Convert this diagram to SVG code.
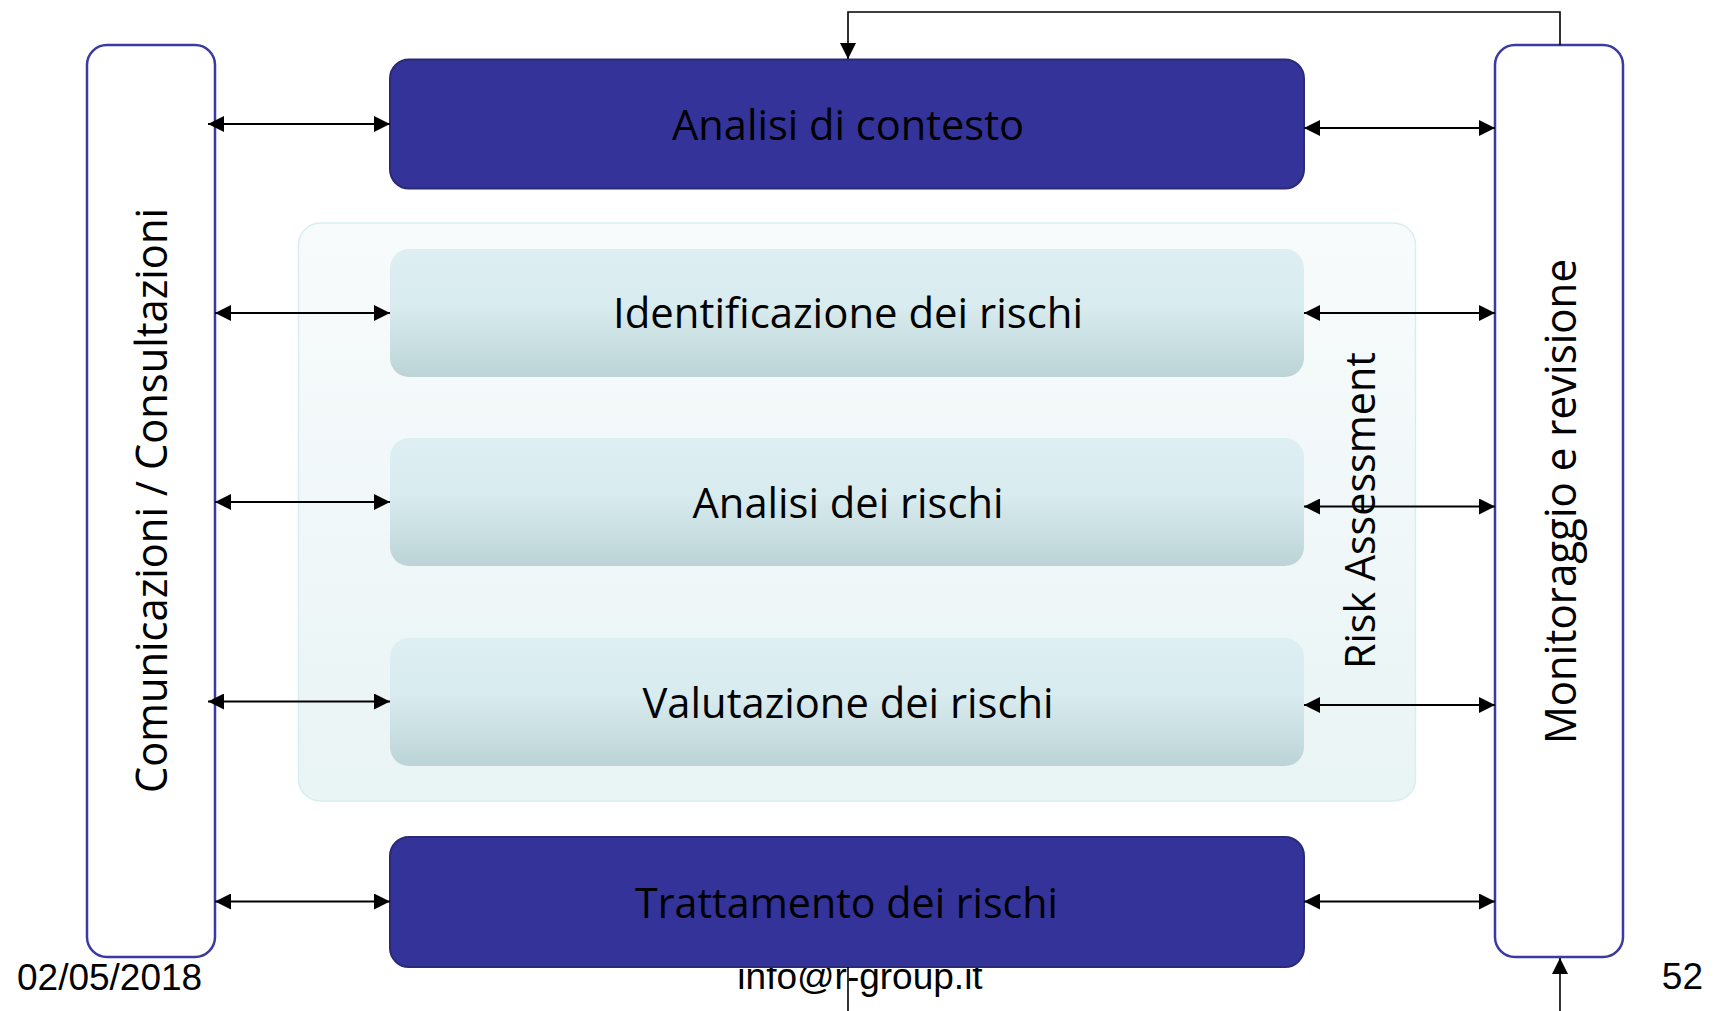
<svg xmlns="http://www.w3.org/2000/svg" width="1715" height="1011" viewBox="0 0 1715 1011">
  <style>
    .dark { fill: #333399; stroke: #2a2a78; stroke-width: 2; }
    .side { fill: #ffffff; stroke: #3a3aa0; stroke-width: 2.5; }
    .light { fill: url(#lightGrad); stroke: none; }
    .boxtext { font-family: "Open Sans", "Noto Sans", sans-serif; font-size: 42px; fill: #000000; text-anchor: middle; }
    .sidetext { font-family: "Open Sans", "Noto Sans", sans-serif; font-size: 43px; fill: #000000; text-anchor: middle; }
    .footer { font-family: "Liberation Sans", Arial, sans-serif; font-size: 37px; fill: #000000; }
    .conn { fill: none; stroke: #000000; stroke-width: 2; }
    .fb { fill: none; stroke: #000000; stroke-width: 1.6; }
  </style>
  <defs>
    <linearGradient id="lightGrad" x1="0" y1="0" x2="0" y2="1">
      <stop offset="0" stop-color="#ddeff2"/>
      <stop offset="0.45" stop-color="#d8ebee"/>
      <stop offset="1" stop-color="#bcd4d7"/>
    </linearGradient>
    <linearGradient id="contGrad" x1="0" y1="0" x2="0" y2="1">
      <stop offset="0" stop-color="#f8fbfc"/>
      <stop offset="1" stop-color="#e9f4f5"/>
    </linearGradient>
    <marker id="ah" markerUnits="userSpaceOnUse" markerWidth="16" markerHeight="16" viewBox="0 0 16 16" refX="16" refY="8" orient="auto-start-reverse">
      <path d="M0,0 L16,8 L0,16 z" fill="#000000"/>
    </marker>
  </defs>

  <!-- footer (drawn beneath boxes) -->
  <g id="footer">
    <text class="footer" x="17" y="990">02/05/2018</text>
    <text class="footer" x="860" y="989" text-anchor="middle">info@r-group.it</text>
    <text class="footer" x="1703" y="989" text-anchor="end">52</text>
  </g>

  <g id="risk-assessment">
    <rect x="298.5" y="223" width="1117" height="578" rx="22" fill="url(#contGrad)" stroke="#d8edf0" stroke-width="1.5"/>
    <text class="boxtext" transform="translate(1375,510.5) rotate(-90)" textLength="317" lengthAdjust="spacingAndGlyphs">Risk Assessment</text>
  </g>

  <g id="comunicazioni">
    <rect class="side" x="87" y="45" width="128" height="912" rx="20"/>
    <text class="sidetext" transform="translate(167,500.5) rotate(-90)" textLength="585" lengthAdjust="spacingAndGlyphs">Comunicazioni / Consultazioni</text>
  </g>

  <g id="monitoraggio">
    <rect class="side" x="1495" y="45" width="128" height="912" rx="20"/>
    <text class="sidetext" transform="translate(1576,501.5) rotate(-90)" textLength="485" lengthAdjust="spacingAndGlyphs">Monitoraggio e revisione</text>
  </g>

  <g id="analisi-contesto">
    <rect class="dark" x="390" y="59.5" width="914" height="129" rx="19"/>
    <text class="boxtext" x="848" y="140" textLength="352" lengthAdjust="spacingAndGlyphs">Analisi di contesto</text>
  </g>

  <g id="identificazione">
    <rect class="light" x="390" y="249" width="914" height="128" rx="19"/>
    <text class="boxtext" x="848" y="328" textLength="470" lengthAdjust="spacingAndGlyphs">Identificazione dei rischi</text>
  </g>

  <g id="analisi-rischi">
    <rect class="light" x="390" y="438" width="914" height="128" rx="19"/>
    <text class="boxtext" x="848" y="518" textLength="311" lengthAdjust="spacingAndGlyphs">Analisi dei rischi</text>
  </g>

  <g id="valutazione">
    <rect class="light" x="390" y="638" width="914" height="128" rx="19"/>
    <text class="boxtext" x="848" y="718" textLength="411" lengthAdjust="spacingAndGlyphs">Valutazione dei rischi</text>
  </g>

  <g id="trattamento">
    <rect class="dark" x="390" y="837" width="914" height="130" rx="19"/>
    <text class="boxtext" x="846.5" y="918" textLength="423" lengthAdjust="spacingAndGlyphs">Trattamento dei rischi</text>
  </g>

  <g id="connectors">
    <!-- left side -->
    <line class="conn" x1="208" y1="124" x2="390" y2="124" marker-start="url(#ah)" marker-end="url(#ah)"/>
    <line class="conn" x1="215" y1="313" x2="390" y2="313" marker-start="url(#ah)" marker-end="url(#ah)"/>
    <line class="conn" x1="215" y1="502" x2="390" y2="502" marker-start="url(#ah)" marker-end="url(#ah)"/>
    <line class="conn" x1="208" y1="701.5" x2="390" y2="701.5" marker-start="url(#ah)" marker-end="url(#ah)"/>
    <line class="conn" x1="215" y1="901.5" x2="390" y2="901.5" marker-start="url(#ah)" marker-end="url(#ah)"/>
    <!-- right side -->
    <line class="conn" x1="1304" y1="128" x2="1495" y2="128" marker-start="url(#ah)" marker-end="url(#ah)"/>
    <line class="conn" x1="1304" y1="313" x2="1495" y2="313" marker-start="url(#ah)" marker-end="url(#ah)"/>
    <line class="conn" x1="1304" y1="506.5" x2="1495" y2="506.5" marker-start="url(#ah)" marker-end="url(#ah)"/>
    <line class="conn" x1="1304" y1="705" x2="1495" y2="705" marker-start="url(#ah)" marker-end="url(#ah)"/>
    <line class="conn" x1="1304" y1="901.5" x2="1495" y2="901.5" marker-start="url(#ah)" marker-end="url(#ah)"/>
    <!-- feedback loop -->
    <polyline class="fb" points="1560,45 1560,12 848,12 848,59" marker-end="url(#ah)"/>
    <line class="fb" x1="1560" y1="1011" x2="1560" y2="958" marker-end="url(#ah)"/>
    <line class="fb" x1="848" y1="967" x2="848" y2="1011"/>
  </g>
</svg>
